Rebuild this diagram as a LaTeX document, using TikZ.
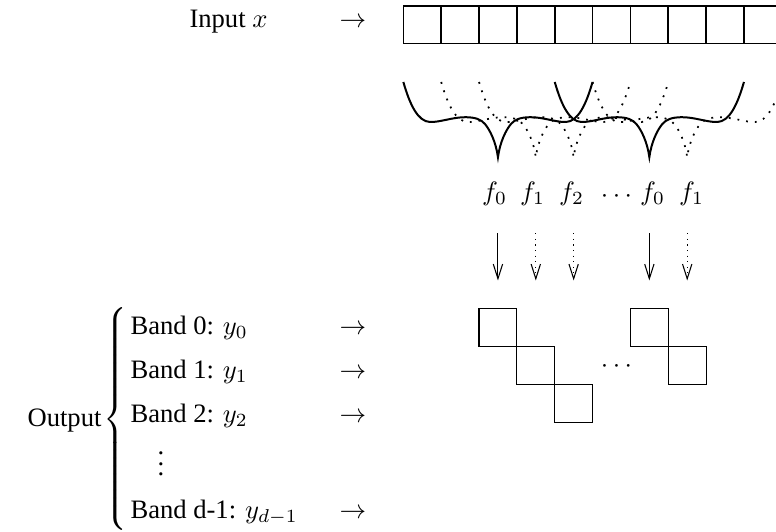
\documentclass[tikz,border=0pt]{standalone}
\usepackage[no-math]{fontspec}
\setmainfont{Liberation Serif}
\usetikzlibrary{arrows.meta}

\begin{document}
\begin{tikzpicture}[x=0.013210cm, y=-0.013210cm,
  cell/.style={draw, line width=0.6pt, minimum size=0.5cm, inner sep=0pt, outer sep=0pt},
  stair/.style={draw, line width=0.45pt, minimum size=0.5cm, inner sep=0pt, outer sep=0pt},
  txt/.style={inner sep=0pt, anchor=base west},
  filt/.style={line width=0.75pt},
  dotfilt/.style={line width=0.65pt, dash pattern=on 0.7pt off 2.6pt},
  sarrow/.style={-{Straight Barb[length=5.5pt,width=3.5pt]}, line width=0.4pt},
  darrow/.style={sarrow, dash pattern=on 0.4pt off 1.7pt},
]
\useasboundingbox (0,0) rectangle (776,532);
\clip (0,0) rectangle (776,532);

% input signal: a row of cells
\node[txt] (inlbl) at (189,28) {Input $x$};
\node[txt] (inarr) at (339,28) {$\rightarrow$};
\foreach \i in {0,...,9}
  \node[cell] (in\i) at ({403.3+37.85*(\i+0.5)},24.7) {};

% filter responses (dotted ones first, solid on top)
\foreach \c in {535.8,573.65,687.2}
  \draw[dotfilt, shift={(\c,0)}]
    (-94.6,82) .. controls (-88,105) and (-80,121.5) .. (-68,122)
    .. controls (-58,122.4) and (-45,117) .. (-32,117.2)
    .. controls (-22,117.4) and (-17,119.5) .. (-13,124)
    .. controls (-8,130) and (-2,142) .. (0,157.3)
    .. controls (2,142) and (8,130) .. (13,124)
    .. controls (17,119.5) and (22,117.4) .. (32,117.2)
    .. controls (45,117) and (58,122.4) .. (68,122)
    .. controls (80,121.5) and (88,105) .. (94.6,82);
\foreach \c in {497.95,649.35}
  \draw[filt, shift={(\c,0)}]
    (-94.6,82) .. controls (-88,105) and (-80,121.5) .. (-68,122)
    .. controls (-58,122.4) and (-45,117) .. (-32,117.2)
    .. controls (-22,117.4) and (-17,119.5) .. (-13,124)
    .. controls (-8,130) and (-2,142) .. (0,157.3)
    .. controls (2,142) and (8,130) .. (13,124)
    .. controls (17,119.5) and (22,117.4) .. (32,117.2)
    .. controls (45,117) and (58,122.4) .. (68,122)
    .. controls (80,121.5) and (88,105) .. (94.6,82);

% filter labels
\node[anchor=base, inner sep=0pt] (fa) at (494.5,201) {$f_0$};
\node[anchor=base, inner sep=0pt] (fb) at (532.5,201) {$f_1$};
\node[anchor=base, inner sep=0pt] (fc) at (571.5,201) {$f_2$};
\node[anchor=base, inner sep=0pt] (fdots) at (616.5,203) {$\cdots$};
\node[anchor=base, inner sep=0pt] (fd) at (652.5,201) {$f_0$};
\node[anchor=base, inner sep=0pt] (fe) at (691.5,201) {$f_1$};

% arrows from filters to output coefficients
\foreach \n/\c in {a/497.95,b/535.8,c/573.65,d/649.35,e/687.2} {
  \coordinate (t\n) at (\c,233.3);
  \coordinate (h\n) at (\c,280.5);
}
\draw[sarrow] (ta) -- (ha);
\draw[darrow] (tb) -- (hb);
\draw[darrow] (tc) -- (hc);
\draw[sarrow] (td) -- (hd);
\draw[darrow] (te) -- (he);

% output coefficients, one staircase per filter group
\node[stair] (sa) at (497.95,327.6) {};
\node[stair] (sb) at (535.8,365.45) {};
\node[stair] (sc) at (573.65,403.3) {};
\node[stair] (sd) at (649.35,327.6) {};
\node[stair] (se) at (687.2,365.45) {};
\node[anchor=base, inner sep=0pt] (sdots) at (616.5,372.7) {$\cdots$};

% output bands
\node[inner sep=0pt, anchor=base east] (outlbl) at (102,427) {Output};
\node[inner sep=0pt, anchor=west] (brace) at (103,419)
  {$\nulldelimiterspace=0pt\left\{\vcenter{\hbox{\rule{0pt}{88pt}}}\right.$};
\node[txt] (b0) at (130,335) {Band 0: $y_0$};
\node[txt] (b1) at (130,379) {Band 1: $y_1$};
\node[txt] (b2) at (130,422.4) {Band 2: $y_2$};
\node[anchor=base, inner sep=0pt] (bdots) at (161,476) {$\vdots$};
\node[txt] (bd) at (130,518.4) {Band d-1: $y_{d-1}$};
\node[txt] (a0) at (339,335) {$\rightarrow$};
\node[txt] (a1) at (339,379) {$\rightarrow$};
\node[txt] (a2) at (339,422.4) {$\rightarrow$};
\node[txt] (ad) at (339,518.4) {$\rightarrow$};
\end{tikzpicture}
\end{document}
